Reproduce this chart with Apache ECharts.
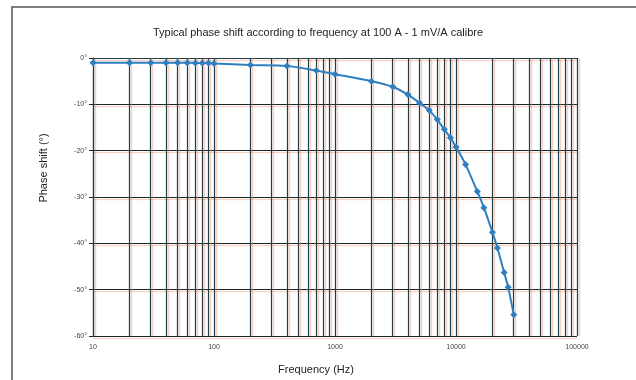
<!DOCTYPE html>
<html>
<head>
<meta charset="utf-8">
<script src="https://cdn.jsdelivr.net/npm/echarts@6/dist/echarts.min.js"></script>
<style>
html,body{margin:0;padding:0;background:#fff;}
#c{width:636px;height:380px;}
</style>
</head>
<body>
<div id="c"></div>
<script>
const titleText = 'Typical phase shift according to frequency at 100 A - 1 mV/A calibre';
const xName = 'Frequency (Hz)';
const yName = 'Phase shift (°)';
const frequencies = [10,20,30,40,50,60,70,80,90,100,200,400,700,1000,2000,3000,4000,5000,6000,7000,8000,9000,10000,12000,15000,17000,20000,22000,25000,27000,30000];
const phases = [-1.0,-1.0,-1.0,-1.0,-1.0,-1.0,-1.1,-1.1,-1.1,-1.2,-1.5,-1.7,-2.7,-3.5,-5.0,-6.2,-7.9,-9.7,-11.3,-13.3,-15.4,-17.2,-19.2,-23.0,-28.8,-32.3,-37.6,-41.0,-46.3,-49.5,-55.4];
const decades = [10,100,1000,10000];
const multipliers = [2,3,4,5,6,7,8,9];

const minorLines = [];
decades.forEach(d => multipliers.forEach(m => minorLines.push({xAxis: d*m})));

const font = "'Liberation Sans Narrow','Arial Narrow','Liberation Sans',Arial,sans-serif";
const gridColor = '#1f3d47';
const shadow = 'rgba(235,130,90,0.45)';

const chart = echarts.init(document.getElementById('c'), null, {renderer:'canvas'});
chart.setOption({
  animation:false,
  backgroundColor:'#ffffff',
  title:{text:titleText,left:'center',top:22,textStyle:{fontFamily:font,fontSize:11,fontWeight:'normal',color:'#222'}},
  graphic:[{type:'rect',shape:{x:12,y:7,width:700,height:420},style:{fill:'none',stroke:'#555',lineWidth:1.5},silent:true,z:-1}],
  grid:{left:93,right:59,top:58,bottom:44},
  xAxis:{
    type:'log',logBase:10,min:10,max:100000,
    name:xName,nameLocation:'middle',nameGap:28,
    nameTextStyle:{fontFamily:font,fontSize:11,color:'#222',padding:[0,38,0,0]},
    axisLine:{show:true,lineStyle:{color:gridColor,width:1.2}},
    axisTick:{show:false},
    axisLabel:{fontFamily:font,fontSize:7,color:'#444',margin:8,formatter:v=>String(Math.round(v))},
    splitLine:{show:true,lineStyle:{color:gridColor,width:1.2,shadowColor:shadow,shadowOffsetX:2,shadowBlur:1}}
  },
  yAxis:{
    type:'value',min:-60,max:0,interval:10,
    name:yName,nameLocation:'middle',nameGap:44,nameRotate:90,
    nameTextStyle:{fontFamily:font,fontSize:11,color:'#222',padding:[0,0,0,58]},
    axisLine:{show:true,lineStyle:{color:gridColor,width:1.2}},
    axisTick:{show:true,length:4,lineStyle:{color:'#222'}},
    axisLabel:{fontFamily:font,fontSize:7,color:'#444',margin:6,formatter:'{value}°'},
    splitLine:{show:true,lineStyle:{color:'#1a2628',width:1.2,shadowColor:shadow,shadowOffsetY:2,shadowBlur:1}}
  },
  series:[{
    type:'line',
    data:frequencies.map((f,i)=>[f,phases[i]]),
    smooth:0.3,
    symbol:'diamond',symbolSize:7,
    lineStyle:{color:'#2f7fc0',width:2},
    itemStyle:{color:'#2f7fc0'},
    z:5,
    markLine:{
      silent:true,symbol:['none','none'],label:{show:false},
      lineStyle:{type:'solid',color:gridColor,width:1.2,shadowColor:shadow,shadowOffsetX:2,shadowBlur:1},
      data:minorLines,z:1
    }
  }]
});
</script>
</body>
</html>
